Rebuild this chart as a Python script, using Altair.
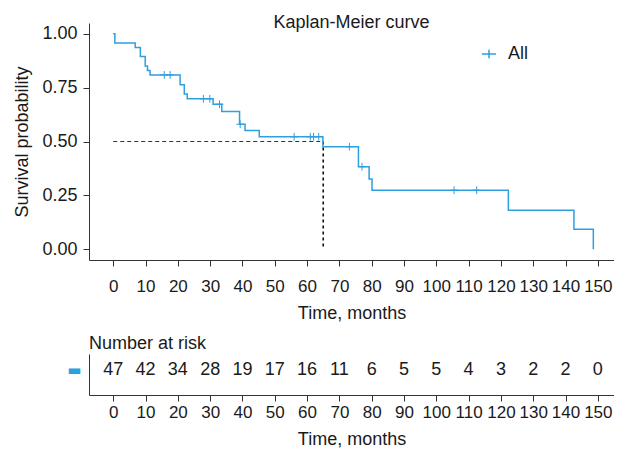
import altair as alt
import pandas as pd

# ---- data ----
event_times = [0, 0.5, 6.8, 8.4, 9.9, 10.6, 11.4, 20.7, 22.0, 22.9, 30.9, 33.6,
               39.1, 40.8, 45.2, 64.9, 75.9, 79.2, 80.1, 122.3, 142.6, 148.6]
survival = [1.0, 0.957, 0.936, 0.894, 0.851, 0.830, 0.809, 0.763, 0.720, 0.698, 0.673, 0.639,
            0.580, 0.551, 0.522, 0.476, 0.383, 0.326, 0.274, 0.181, 0.093, 0.0]

censor_times = [15.8, 17.6, 27.9, 29.9, 32.9, 39.3, 56.0, 61.0, 62.0, 63.6, 73.1, 77.0, 105.5, 112.5]
censor_surv = [0.809, 0.809, 0.698, 0.698, 0.673, 0.580, 0.522, 0.522, 0.522, 0.522, 0.476, 0.383, 0.274, 0.274]

risk_times = [0, 10, 20, 30, 40, 50, 60, 70, 80, 90, 100, 110, 120, 130, 140, 150]
risk_counts = [47, 42, 34, 28, 19, 17, 16, 11, 6, 5, 5, 4, 3, 2, 2, 0]

median_time = 65
median_surv = 0.5
strata = "All"
tick_values_x = [0, 10, 20, 30, 40, 50, 60, 70, 80, 90, 100, 110, 120, 130, 140, 150]
tick_values_y = [0, 0.25, 0.5, 0.75, 1.0]

BLUE = "#2E9FDF"
FONT = "Liberation Sans"
TXT = "#1a1a1a"

km = pd.DataFrame({"time": event_times, "surv": survival, "strata": strata})
cens = pd.DataFrame({"time": censor_times, "surv": censor_surv})
risk = pd.DataFrame({"time": risk_times, "n": risk_counts, "strata": strata})
med_h = pd.DataFrame({"time": [0], "time2": [median_time], "surv": [median_surv]})
med_v = pd.DataFrame({"time": [median_time], "surv": [median_surv], "surv2": [0]})

xscale = alt.Scale(domain=[-7.5, 155], nice=False, zero=False)
yscale = alt.Scale(domain=[-0.05, 1.05], nice=False, zero=False)

x_axis_top = alt.Axis(values=tick_values_x, title="Time, months", labelPadding=12,
                      titlePadding=10, labelFlush=False, labelOverlap=False, labelFontSize=17)
x_axis_bot = alt.Axis(values=tick_values_x, title="Time, months", labelPadding=3,
                      titlePadding=10, labelFlush=False, labelOverlap=False, labelFontSize=17)
y_axis = alt.Axis(values=tick_values_y, format=".2f", title="Survival probability",
                  labelPadding=6, titlePadding=10)

X = alt.X("time:Q", scale=xscale, axis=x_axis_top)
Y = alt.Y("surv:Q", scale=yscale, axis=y_axis)

line = alt.Chart(km).mark_line(interpolate="step-after", strokeWidth=1.5).encode(
    x=X, y=Y,
    color=alt.Color("strata:N", scale=alt.Scale(range=[BLUE]),
                    legend=alt.Legend(title=None, orient="none", legendX=391, legendY=22,
                                      symbolType="M-1,0H1M0,-0.6V0.6", symbolSize=200,
                                      symbolStrokeWidth=1.5, labelFontSize=18,
                                      labelFont=FONT, labelColor=TXT, labelOffset=10)),
)

marks = alt.Chart(cens).mark_point(shape="M0,-1V1M-1,0H1", size=60, strokeWidth=1,
                                   color=BLUE, opacity=1, filled=False).encode(x=X, y=Y)

hrule = alt.Chart(med_h).mark_rule(strokeDash=[4, 3], color="#333333", strokeWidth=1).encode(
    x=X, x2="time2:Q", y=Y)
vrule = alt.Chart(med_v).mark_rule(strokeDash=[3, 3], color="#111111", strokeWidth=1.6).encode(
    x=X, y=Y, y2="surv2:Q")

top = alt.layer(hrule, vrule, line, marks).properties(
    width=525, height=237,
    title=alt.TitleParams("Kaplan-Meier curve", fontSize=18, font=FONT, fontWeight="normal",
                          anchor="middle", offset=-9, color=TXT),
)

bottom = alt.Chart(risk).mark_text(fontSize=18, font=FONT, color=TXT, dy=-5).encode(
    x=alt.X("time:Q", scale=xscale, axis=x_axis_bot),
    y=alt.Y("strata:N", axis=alt.Axis(title=None, ticks=False, labelExpr="'\u25AC'",
                                      labelColor=BLUE, labelFont="DejaVu Sans",
                                      labelFontSize=15, labelPadding=8, labelOffset=-5)),
    text="n:Q",
).properties(
    width=525, height=41,
    title=alt.TitleParams("Number at risk", anchor="start", frame="group", fontSize=18,
                          font=FONT, fontWeight="normal", color=TXT, offset=1),
)

chart = alt.vconcat(top, bottom, spacing=13).properties(
    padding={"left": 5, "top": 6, "right": 0, "bottom": 0}
).configure_view(stroke=None).configure_axis(
    labelFont=FONT, titleFont=FONT, labelFontSize=18, titleFontSize=18,
    labelColor=TXT, titleColor=TXT, titleFontWeight="normal",
    domainColor="#333333", tickColor="#333333", grid=False, tickSize=6,
)

chart.save("out.html", embed_options={"renderer": "svg", "actions": False})
